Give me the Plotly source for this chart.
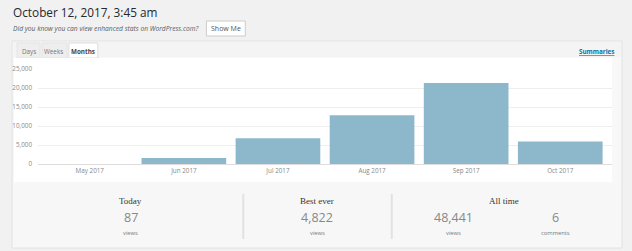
import plotly.graph_objects as go

months = ["May 2017", "Jun 2017", "Jul 2017", "Aug 2017", "Sep 2017", "Oct 2017"]
views = [0, 1600, 6800, 12800, 21300, 5900]
ytick_vals = [0, 5000, 10000, 15000, 20000, 25000]
ytick_text = ["0", "5,000", "10,000", "15,000", "20,000", "25,000"]

W, H = 632, 251
L, R = 36, 612
T, B = 69, 164


def px(x):
    return (x - L) / (R - L)


def py(y):
    return (B - y) / (B - T)


fig = go.Figure()
fig.add_trace(go.Bar(x=months, y=views, marker=dict(color="#8db8cb", line=dict(width=0)),
                     hoverinfo="x+y"))

shapes = []


def rect(x0, y0, x1, y1, fill, line=None, lw=1, layer="below"):
    shapes.append(dict(type="rect", xref="paper", yref="paper",
                       x0=px(x0), x1=px(x1), y0=py(y1), y1=py(y0),
                       fillcolor=fill, line=dict(color=line or fill, width=lw if line else 0),
                       layer=layer))


def vline(x, y0, y1, color, w=1):
    shapes.append(dict(type="line", xref="paper", yref="paper",
                       x0=px(x), x1=px(x), y0=py(y1), y1=py(y0),
                       line=dict(color=color, width=w), layer="below"))


# panel
rect(10, 41, 622, 248, "#f8f8f8", "#e2e2e2")
# tab strip
rect(11, 42, 621, 57, "#f4f4f4")
# tabs
rect(15, 43, 38, 58, "#eeeeee", "#e4e4e4")
rect(40, 43, 65, 58, "#eeeeee", "#e4e4e4")
rect(67, 43, 96, 58, "#ffffff", "#dddddd")
# chart white area
rect(12, 58, 612, 182, "#ffffff")
# stats area
rect(12, 185, 620, 246, "#f7f7f7")
vline(242, 194, 239, "#e2e2e2", 2)
vline(391, 194, 239, "#e2e2e2", 2)
# show me button
rect(205, 21, 244, 36, "#ffffff", "#cccccc")

ann = []


def text(x, y, s, size, color, family="Open Sans", xanchor="center"):
    ann.append(dict(xref="paper", yref="paper", x=px(x), y=py(y), text=s, showarrow=False,
                    xanchor=xanchor, yanchor="middle",
                    font=dict(size=size, color=color, family=family)))


text(9, 12, "October 12, 2017, 3:45 am", 11.8, "#23282d", xanchor="left")
text(9, 28.5, "<i>Did you know you can view enhanced stats on WordPress.com?</i>", 6.7, "#555d66", xanchor="left")
text(224.5, 28.5, "Show Me", 7, "#555555")
text(27, 51, "Days", 6.3, "#777777")
text(52, 51, "Weeks", 6.3, "#777777")
text(81.5, 51, "<b>Months</b>", 6.3, "#444444")
text(596, 51, "<b><u>Summaries</u></b>", 6.3, "#0073aa")

serif = "Liberation Serif"
text(129, 201, "Today", 9, "#333333", family=serif)
text(316, 201, "Best ever", 9, "#333333", family=serif)
text(504, 201, "All time", 9, "#333333", family=serif)
text(129, 217, "87", 12.5, "#888888")
text(316, 217, "4,822", 12.5, "#888888")
text(453, 217, "48,441", 12.5, "#888888")
text(555, 217, "6", 12.5, "#888888")
text(129, 233, "views", 5.8, "#777777")
text(316, 233, "views", 5.8, "#777777")
text(453, 233, "views", 5.8, "#777777")
text(555, 233, "comments", 5.8, "#777777")

fig.update_layout(
    width=W, height=H,
    margin=dict(l=L, r=W - R, t=T, b=H - B, pad=0),
    paper_bgcolor="#f1f1f1",
    plot_bgcolor="rgba(0,0,0,0)",
    bargap=0.1,
    showlegend=False,
    shapes=shapes,
    annotations=ann,
    xaxis=dict(range=[-0.55, 5.55], showgrid=False, zeroline=False, showline=False,
               ticks="", tickfont=dict(size=6.3, color="#888888", family="Open Sans"),
               ticklabelstandoff=2, fixedrange=True),
    yaxis=dict(range=[0, 25000], tickvals=ytick_vals, ticktext=ytick_text,
               showgrid=True, gridcolor="#eeeeee", gridwidth=1,
               zeroline=True, zerolinecolor="#dddddd", zerolinewidth=1,
               showline=False, ticks="", ticklabelstandoff=5,
               tickfont=dict(size=6.3, color="#888888", family="Open Sans"), fixedrange=True),
)

fig.write_html("out.html", config={"displayModeBar": False})
